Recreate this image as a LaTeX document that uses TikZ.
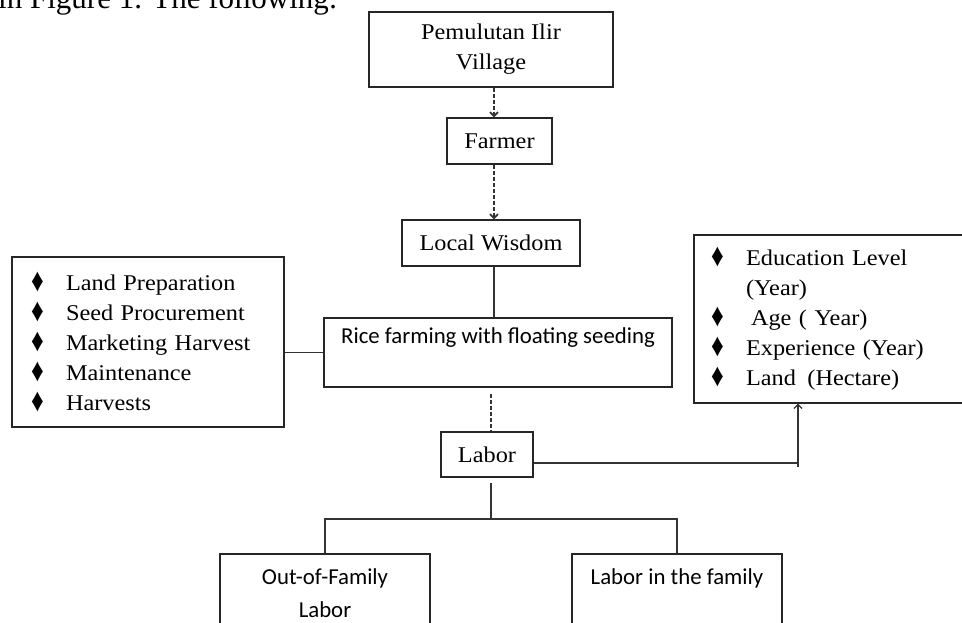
\documentclass[tikz,border=0pt]{standalone}
\usepackage{fontspec}
\usetikzlibrary{arrows.meta}
\newfontfamily\boxfont[FakeStretch=1.08]{Liberation Serif}
\newfontfamily\plainserif{Liberation Serif}
\newfontfamily\calib{Carlito}
\newcommand{\puce}{\makebox[35pt][l]{\raisebox{-1pt}{\scalebox{1}[1.3]{\plainserif\fontsize{25}{25}\selectfont ♦}}}}
\begin{document}
\begin{tikzpicture}[x=1pt,y=-1pt,
    cadre/.style={draw=black!85,line width=1.3pt,inner sep=0pt},
    serif/.style={font=\boxfont\fontsize{22.5}{30}\selectfont},
    sans/.style={font=\calib\fontsize{22.8}{33}\selectfont},
    lien/.style={draw=black!80,line width=1.3pt},
    pointille/.style={draw=black!80,line width=1.8pt,dash pattern=on 4pt off 2pt},
    >={Straight Barb[length=4pt,width=8pt]}]
    \useasboundingbox (0,0) rectangle (962,623);
    \node[font=\plainserif\fontsize{31}{36}\selectfont,anchor=base east] (intro) at (341,9) {in Figure 1. The following:};
    \node[cadre,serif,align=center,minimum width=244,minimum height=75] (village) at (491,49.5) {Pemulutan Ilir\\Village};
    \node[cadre,serif,minimum width=105,minimum height=46] (farmer) at (499.5,141) {Farmer};
    \node[cadre,serif,minimum width=178,minimum height=46] (wisdom) at (491,243) {Local Wisdom};
    \node[cadre,sans,align=center,minimum width=348,minimum height=69] (rice) at (498,352.5) {Rice farming with floating seeding\\ ~};
    \node[cadre,serif,align=left,text width=234,inner xsep=19,minimum height=170] (steps) at (148,342)
        {\puce Land Preparation\\\puce Seed Procurement\\\puce Marketing Harvest\\\puce Maintenance\\\puce Harvests};
    \node[cadre,serif,align=left,text width=237,inner xsep=17,minimum height=168] (traits) at (829.5,319)
        {\puce Education Level\\\hspace*{35pt}(Year)\\\puce\hspace{5pt}Age ( Year)\\\puce Experience (Year)\\\puce Land\hspace{4pt} (Hectare)};
    \node[cadre,serif,minimum width=92,minimum height=45] (labor) at (487,454.5) {Labor};
    \node[cadre,sans,align=center,minimum width=210,minimum height=112] (outfam) at (325,610) {Out-of-Family\\Labor\\ ~};
    \node[cadre,sans,align=center,minimum width=210,minimum height=112] (infam) at (677,610) {Labor in the family\\ ~\\ ~};
    % liaisons
    \coordinate (trunk) at (494,0);
    \coordinate (lowtrunk) at (491,0);
    \coordinate (up) at (798,463);
    \coordinate (fork) at (491,519);
    \draw[pointille,->] (village.south -| trunk) -- (farmer.north -| trunk);
    \draw[pointille,->] (farmer.south -| trunk) -- (wisdom.north -| trunk);
    \draw[lien] (wisdom.south -| trunk) -- (rice.north -| trunk);
    \draw[lien] (steps.east |- rice.west) -- (rice.west);
    \draw[pointille] ([yshift=-6pt]rice.south -| lowtrunk) -- (labor.north -| lowtrunk);
    \draw[lien] (labor.east |- up) -- (up);
    \draw[lien,->] ([yshift=-4pt]up) -- (traits.south -| up);
    \draw[lien] ([yshift=-5pt]labor.south -| fork) -- (fork);
    \draw[lien] (outfam.north) |- (fork) -| (infam.north);
\end{tikzpicture}
\end{document}
